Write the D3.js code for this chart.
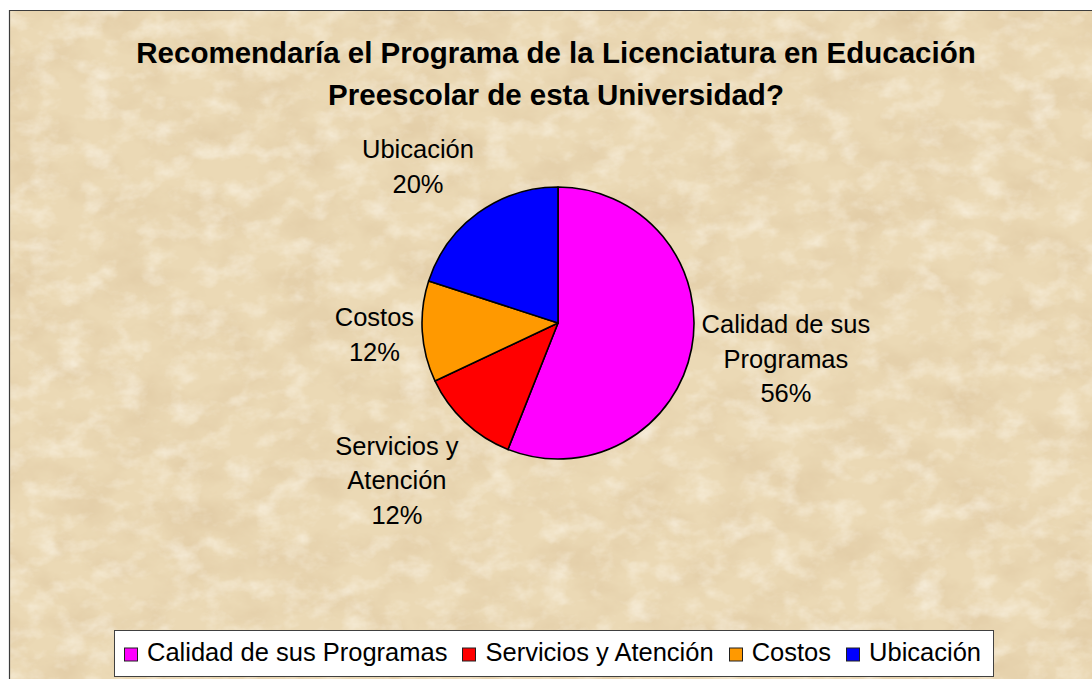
<!DOCTYPE html>
<html>
<head>
<meta charset="utf-8">
<script src="https://cdn.jsdelivr.net/npm/d3@7"></script>
<style>
html,body{margin:0;padding:0;background:#fff;}
svg{display:block;}
text{font-family:"Liberation Sans",Arial,sans-serif;fill:#000;}
</style>
</head>
<body>
<svg id="chart" width="1092" height="679"></svg>
<script>
// ---- data ----
const categories = ["Calidad de sus Programas", "Servicios y Atención", "Costos", "Ubicación"];
const labelLines = [["Calidad de sus", "Programas"], ["Servicios y", "Atención"], ["Costos"], ["Ubicación"]];
const values = [56, 12, 12, 20];
const titleLines = ["Recomendaría el Programa de la Licenciatura en Educación", "Preescolar de esta Universidad?"];

// ---- style / layout ----
const W = 1092, H = 679;
const colors = ["#FF00FF", "#FF0000", "#FF9900", "#0000FF"];
const cx = 558, cy = 323, R = 136;
const labelRadius = 228;
const labelNudge = [[4, -7], [-5, -9], [44, -3], [-6, 28]];
const labelFont = 25.5, labelLH = 34.5, capH = 18;

const svg = d3.select("#chart");
const defs = svg.append("defs");

const f1 = defs.append("filter").attr("id", "tex1").attr("x", 0).attr("y", 0).attr("width", 1).attr("height", 1);
f1.append("feTurbulence").attr("type", "fractalNoise").attr("baseFrequency", "0.018 0.026").attr("numOctaves", 5).attr("seed", 7);
f1.append("feColorMatrix").attr("type", "matrix")
  .attr("values", "0 0 0 0 0.74  0 0 0 0 0.58  0 0 0 0 0.36  1.5 0 0 0 -0.6");
const f2 = defs.append("filter").attr("id", "tex2").attr("x", 0).attr("y", 0).attr("width", 1).attr("height", 1);
f2.append("feTurbulence").attr("type", "fractalNoise").attr("baseFrequency", "0.035 0.05").attr("numOctaves", 4).attr("seed", 19);
f2.append("feColorMatrix").attr("type", "matrix")
  .attr("values", "0 0 0 0 1  0 0 0 0 0.97  0 0 0 0 0.9  0 1.2 0 0 -0.56");

// chart area background
const area = svg.append("g");
area.append("rect").attr("x", 9).attr("y", 10).attr("width", W - 9).attr("height", H - 10).attr("fill", "#ebd9b5");
area.append("rect").attr("x", 9).attr("y", 10).attr("width", W - 9).attr("height", H - 10).attr("filter", "url(#tex1)");
area.append("rect").attr("x", 9).attr("y", 10).attr("width", W - 9).attr("height", H - 10).attr("filter", "url(#tex2)");
svg.append("path").attr("d", `M9.5,${H}V10.5H${W}`).attr("fill", "none").attr("stroke", "#3c3c3c").attr("stroke-width", 1.2);

// title
const titleBase = [63, 105];
svg.append("g").selectAll("text").data(titleLines).join("text")
  .attr("x", 556).attr("y", (d, i) => titleBase[i])
  .attr("text-anchor", "middle")
  .style("font-weight", "bold").style("font-size", "29.5px")
  .text(d => d);

// pie
const total = d3.sum(values);
const pie = d3.pie().sort(null).value(d => d);
const arcs = pie(values);
const arc = d3.arc().innerRadius(0).outerRadius(R);
const g = svg.append("g").attr("transform", `translate(${cx},${cy})`);
g.selectAll("path").data(arcs).join("path")
  .attr("d", arc)
  .attr("fill", (d, i) => colors[i])
  .attr("stroke", "#000").attr("stroke-width", 1.6).attr("stroke-linejoin", "round");

// labels
const pct = d3.format(".0%");
arcs.forEach((a, i) => {
  const mid = (a.startAngle + a.endAngle) / 2;
  const lx = cx + Math.sin(mid) * labelRadius + labelNudge[i][0];
  const ly = cy - Math.cos(mid) * labelRadius + labelNudge[i][1];
  const lines = labelLines[i].concat([pct(values[i] / total)]);
  const blockH = capH + (lines.length - 1) * labelLH;
  const first = ly - blockH / 2 + capH;
  const t = svg.append("text").attr("text-anchor", "middle").style("font-size", labelFont + "px");
  lines.forEach((ln, j) => {
    t.append("tspan").attr("x", lx).attr("y", first + j * labelLH).text(ln);
  });
});

// legend
const legY = 630, legH = 46, mk = 13, mkGap = 10, itemGap = 15, padL = 10, padR = 12;
const leg = svg.append("g");
const legRect = leg.append("rect").attr("y", legY + 0.5).attr("height", legH)
  .attr("fill", "#fff").attr("stroke", "#404040").attr("stroke-width", 1);
const items = leg.selectAll("g.item").data(categories).join("g").attr("class", "item");
items.append("rect").attr("width", mk).attr("height", mk).attr("y", 648)
  .attr("fill", (d, i) => colors[i]).attr("stroke", "#202020").attr("stroke-width", 1);
const txts = items.append("text").attr("y", 661).style("font-size", "25.5px").text(d => d);
const widths = [];
txts.each(function () { widths.push(this.getComputedTextLength()); });
const content = d3.sum(widths) + categories.length * (mk + mkGap) + (categories.length - 1) * itemGap;
const boxW = content + padL + padR;
const boxX = 553.5 - boxW / 2;
legRect.attr("x", Math.round(boxX) + 0.5).attr("width", Math.round(boxW));
let x = boxX + padL;
items.each(function (d, i) {
  const s = d3.select(this);
  s.select("rect").attr("x", Math.round(x) + 0.5);
  s.select("text").attr("x", x + mk + mkGap);
  x += mk + mkGap + widths[i] + itemGap;
});
</script>
</body>
</html>
